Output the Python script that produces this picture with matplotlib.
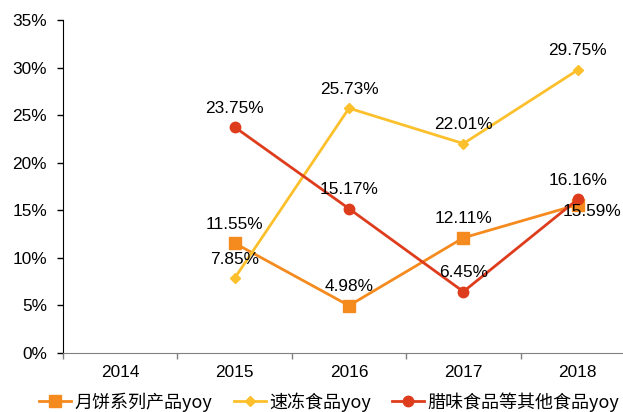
import matplotlib
matplotlib.use("Agg")
import matplotlib.pyplot as plt
from matplotlib.ticker import FuncFormatter

plt.rcParams['font.family'] = ['Liberation Sans', 'Noto Sans CJK SC', 'DejaVu Sans']

years = ['2014', '2015', '2016', '2017', '2018']
mooncake = [None, 11.55, 4.98, 12.11, 15.59]
frozen = [None, 7.85, 25.73, 22.01, 29.75]
cured = [None, 23.75, 15.17, 6.45, 16.16]
names = ['月饼系列产品yoy', '速冻食品yoy', '腊味食品等其他食品yoy']
colors = ['#F58A1F', '#FCC02C', '#DE3D1D']

W, H = 623, 412
fig = plt.figure(figsize=(W / 100, H / 100), dpi=100)
ax = fig.add_axes([63 / W, 1 - 353 / H, 572 / W, 333 / H])

x = list(range(len(years)))
fs = 12.4

def xy(vals):
    xs = [i for i, v in enumerate(vals) if v is not None]
    ys = [v for v in vals if v is not None]
    return xs, ys

styles = [('s', 8), ('D', 5), ('o', 7.5)]
series = [mooncake, frozen, cured]
handles = []
for vals, c, (m, ms), nm in zip(series, colors, styles, names):
    xs, ys = xy(vals)
    h, = ax.plot(xs, ys, color=c, lw=2, marker=m, markersize=ms, label=nm, zorder=3)
    handles.append(h)

# data labels
offsets = {
    (0, 4): (14, -7),
}
for si, vals in enumerate(series):
    for i, v in enumerate(vals):
        if v is None:
            continue
        dx, dy = offsets.get((si, i), (0, 19))
        ax.annotate(f'{v:.2f}%', (i, v), xytext=(dx, dy), textcoords='offset pixels',
                    ha='center', va='center', fontsize=fs, color='#000000', zorder=5)

ax.set_xlim(-0.5, 4.5)
ax.set_ylim(0, 35)
ax.set_yticks(range(0, 36, 5))
ax.yaxis.set_major_formatter(FuncFormatter(lambda v, p: f'{int(v)}%'))
ax.set_xticks(x)
ax.set_xticklabels(years)
ax.set_xticks([i - 0.5 for i in range(len(years) + 1)], minor=True)
ax.tick_params(axis='x', which='major', length=0, pad=8.5, labelsize=fs)
ax.tick_params(axis='x', which='minor', length=4.5, width=1, color='#808080')
ax.tick_params(axis='y', length=4.5, width=1, labelsize=fs, pad=7)
for s in ['top', 'right']:
    ax.spines[s].set_visible(False)
ax.spines['left'].set_color('#000000')
ax.spines['bottom'].set_color('#808080')

leg = fig.legend(handles=handles, loc='center left', bbox_to_anchor=(39 / W, 1 - 402 / H),
                 ncol=3, frameon=False, handlelength=1.78, handletextpad=0.17,
                 columnspacing=1.2, borderpad=0, borderaxespad=0,
                 prop={'family': ['Noto Sans CJK SC', 'DejaVu Sans'], 'size': 13})

fig.savefig('out.png', dpi=100)
